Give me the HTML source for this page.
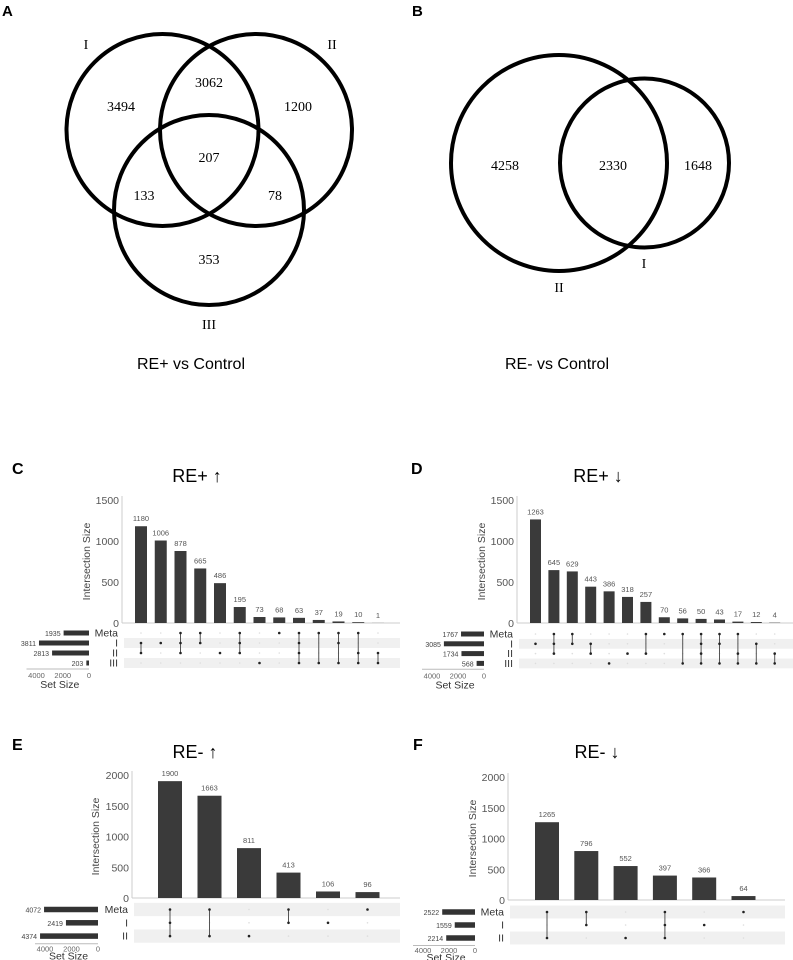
<!DOCTYPE html>
<html><head><meta charset="utf-8">
<style>
html,body{margin:0;padding:0;background:#fff;}
svg{display:block;}
.serif{font-family:"Liberation Serif",serif;}
.sans{font-family:"Liberation Sans",sans-serif;}
</style></head>
<body>
<svg id="fig" width="793" height="960" viewBox="0 0 793 960" xmlns="http://www.w3.org/2000/svg">
<g>
<text x="2" y="16" class="sans" font-size="15" font-weight="bold">A</text>
<circle cx="162.5" cy="130" r="96" fill="none" stroke="#000" stroke-width="4"/>
<circle cx="256" cy="130" r="96" fill="none" stroke="#000" stroke-width="4"/>
<circle cx="209" cy="210" r="95" fill="none" stroke="#000" stroke-width="4"/>
<g class="serif" font-size="14" text-anchor="middle">
<text x="86" y="49">I</text>
<text x="332" y="49">II</text>
<text x="209" y="87">3062</text>
<text x="121" y="111">3494</text>
<text x="298" y="111">1200</text>
<text x="209" y="162">207</text>
<text x="144" y="200">133</text>
<text x="275" y="200">78</text>
<text x="209" y="264">353</text>
<text x="209" y="329">III</text>
</g>
<text x="191" y="369" class="sans" font-size="16" text-anchor="middle">RE+ vs Control</text>
</g>
<g>
<text x="412" y="16" class="sans" font-size="15" font-weight="bold">B</text>
<circle cx="559" cy="163" r="108" fill="none" stroke="#000" stroke-width="4"/>
<circle cx="644.5" cy="163" r="84.5" fill="none" stroke="#000" stroke-width="4"/>
<g class="serif" font-size="14" text-anchor="middle">
<text x="505" y="170">4258</text>
<text x="613" y="170">2330</text>
<text x="698" y="170">1648</text>
<text x="644" y="268">I</text>
<text x="559" y="292">II</text>
</g>
<text x="557" y="369" class="sans" font-size="16" text-anchor="middle">RE- vs Control</text>
</g>
</svg>
<script>
// Panel C data
const cSets = ["Meta","I","II","III"];
const cSetSizes = [1935,3811,2813,203];
const cValues = [1180,1006,878,665,486,195,73,68,63,37,19,10,1];
const cCombos = [[1,2],[1],[0,1,2],[0,1],[2],[0,1,2],[3],[0],[0,1,2,3],[0,3],[0,1,3],[0,2,3],[2,3]];
const cTicks = [0,500,1000,1500];
// Panel D data
const dSets = ["Meta","I","II","III"];
const dSetSizes = [1767,3085,1734,568];
const dValues = [1263,645,629,443,386,318,257,70,56,50,43,17,12,4];
const dCombos = [[1],[0,1,2],[0,1],[1,2],[3],[2],[0,2],[0],[0,3],[0,1,2,3],[0,1,3],[0,2,3],[1,3],[2,3]];
const dTicks = [0,500,1000,1500];
// Panel E data
const eSets = ["Meta","I","II"];
const eSetSizes = [4072,2419,4374];
const eValues = [1900,1663,811,413,106,96];
const eCombos = [[0,1,2],[0,2],[2],[0,1],[1],[0]];
const eTicks = [0,500,1000,1500,2000];
// Panel F data
const fSets = ["Meta","I","II"];
const fSetSizes = [2522,1559,2214];
const fValues = [1265,796,552,397,366,64];
const fCombos = [[0,2],[0,1],[2],[0,1,2],[1],[0]];
const fTicks = [0,500,1000,1500,2000];
const setTicks = [4000,2000,0];

const NS="http://www.w3.org/2000/svg";
const svg=document.getElementById('fig');
function mk(tag,attrs,parent,txt){const e=document.createElementNS(NS,tag);for(const k in attrs)e.setAttribute(k,attrs[k]);if(txt!==undefined)e.textContent=txt;parent.appendChild(e);return e;}

function upset(p){
  const g=mk('g',{},svg);
  
  
  const lab=mk('text',{x:p.labX,y:p.titleY-2,'font-size':16,'font-weight':'bold','font-family':'Liberation Sans, sans-serif'},g,p.letter);
  
  
  const tt=mk('text',{x:p.titleX,y:p.titleY+6,'font-size':18,'text-anchor':'middle','font-family':'Liberation Sans, DejaVu Sans, sans-serif'},g,p.title);
  
  
  const y=v=>p.y0-(v/p.ymax)*(p.y0-p.ytop);
  const x=i=>p.x1+i*p.step;
  const ax=mk('line',{x1:p.ax,y1:p.ytop-4,x2:p.ax,y2:p.y0,stroke:'#ccc','stroke-width':1},g);
  
  
  const bl=mk('line',{x1:p.ax,y1:p.y0,x2:p.right,y2:p.y0,stroke:'#ccc','stroke-width':1},g);
  
  
  p.ticks.forEach(t=>{
    const e=mk('text',{x:p.ax-3,y:y(t)+4,'font-size':p.tickFs,fill:'#555','text-anchor':'end','font-family':'Liberation Sans, sans-serif'},g,t);
    
    
  });
  const yt=mk('text',{x:0,y:0,'font-size':p.tickFs,fill:'#444','text-anchor':'middle','font-family':'Liberation Sans, sans-serif',transform:`translate(${p.ytitleX},${(p.ytop+p.y0)/2}) rotate(-90)`},g,'Intersection Size');
  
  
  p.sets.forEach((s,r)=>{
    const ry=p.row0+r*p.rowH;
    if(r%2===p.shadeParity){
      const sh=mk('rect',{x:p.ax+2,y:ry-p.rowH/2,width:p.right-p.ax-2,height:p.rowH,fill:'#f0f0f0'},g);
      
      
    }
    const sl=mk('text',{x:p.ax-4,y:ry+3.5,'font-size':p.rowFs,fill:'#333','text-anchor':'end','font-family':'Liberation Sans, sans-serif'},g,s);
    
    
    const w=p.setSizes[r]/4000*p.setW;
    const sb=mk('rect',{x:p.setR-w,y:ry-p.setBarH/2,width:w,height:p.setBarH,fill:'#333'},g);
    
    
    const sv=mk('text',{x:p.setR-w-3,y:ry+3,'font-size':7,fill:'#444','text-anchor':'end','font-family':'Liberation Sans, sans-serif'},g,p.setSizes[r]);
    
    
  });
  const sa=p.row0+(p.sets.length-1)*p.rowH+p.rowH/2+1;
  const sal=mk('line',{x1:p.setR-p.setW-10,y1:sa,x2:p.setR,y2:sa,stroke:'#bbb','stroke-width':1},g);
  
  
  setTicks.forEach(t=>{
    const e=mk('text',{x:p.setR-t/4000*p.setW,y:sa+p.stk,'font-size':7.5,fill:'#666','text-anchor':'middle','font-family':'Liberation Sans, sans-serif'},g,t);
    
    
  });
  const ss=mk('text',{x:p.setR-p.setW/2-3,y:sa+p.sst,'font-size':10.5,fill:'#333','text-anchor':'middle','font-family':'Liberation Sans, sans-serif'},g,'Set Size');
  
  
  p.values.forEach((v,i)=>{
    const cx=x(i);
    const b=mk('rect',{x:cx-p.bw/2,y:y(v),width:p.bw,height:p.y0-y(v),fill:'#3a3a3a'},g);
    
    
    const t=mk('text',{x:cx,y:y(v)-5,'font-size':p.valFs,fill:'#555','text-anchor':'middle','font-family':'Liberation Sans, sans-serif'},g,v);
    
    
    p.sets.forEach((s,r)=>{
      const d=mk('circle',{cx:cx,cy:p.row0+r*p.rowH,r:0.8,fill:'#ddd'},g);
      
      
    });
    const c=p.combos[i];
    const mn=Math.min(...c),mx=Math.max(...c);
    if(mx>mn){
      const l=mk('line',{x1:cx,y1:p.row0+mn*p.rowH,x2:cx,y2:p.row0+mx*p.rowH,stroke:'#555','stroke-width':1},g);
      
      
    }
    c.forEach(r=>{
      const d=mk('circle',{cx:cx,cy:p.row0+r*p.rowH,r:1.3,fill:'#222'},g);
      
      
    });
  });
}
upset({name:'panel-c-upset',letter:'C',labX:12,title:'RE+ \u2191',titleX:197,titleY:476,sets:cSets,setSizes:cSetSizes,values:cValues,combos:cCombos,ticks:cTicks,
  ymax:1500,ytop:500,y0:623,ax:122,right:400,x1:141,step:19.75,bw:12,row0:633,rowH:10,shadeParity:1,setR:89,setW:52.5,setBarH:5,ytitleX:90,tickFs:10.5,rowFs:10.5,valFs:7.5,stk:9,sst:19});
upset({name:'panel-d-upset',letter:'D',labX:411,title:'RE+ \u2193',titleX:598,titleY:476,sets:dSets,setSizes:dSetSizes,values:dValues,combos:dCombos,ticks:dTicks,
  ymax:1500,ytop:500,y0:623,ax:517,right:793,x1:535.5,step:18.4,bw:11,row0:634,rowH:9.8,shadeParity:1,setR:484,setW:52,setBarH:5,ytitleX:485,tickFs:10.5,rowFs:10.5,valFs:7.5,stk:9,sst:19});
upset({name:'panel-e-upset',letter:'E',labX:12,title:'RE- \u2191',titleX:195,titleY:752,sets:eSets,setSizes:eSetSizes,values:eValues,combos:eCombos,ticks:eTicks,
  ymax:2000,ytop:775,y0:898,ax:132,right:400,x1:170,step:39.5,bw:24,row0:909.5,rowH:13.3,shadeParity:0,setR:98,setW:53,setBarH:5.5,ytitleX:99,tickFs:10.5,rowFs:10.5,valFs:7.5,stk:7.5,sst:15.5});
upset({name:'panel-f-upset',letter:'F',labX:413,title:'RE- \u2193',titleX:597,titleY:752,sets:fSets,setSizes:fSetSizes,values:fValues,combos:fCombos,ticks:fTicks,
  ymax:2000,ytop:777,y0:900,ax:508,right:785,x1:547,step:39.3,bw:24,row0:912,rowH:13,shadeParity:0,setR:475,setW:52,setBarH:5.5,ytitleX:476,tickFs:10.5,rowFs:10.5,valFs:7.5,stk:7.5,sst:15.5});
</script>
</body></html>
